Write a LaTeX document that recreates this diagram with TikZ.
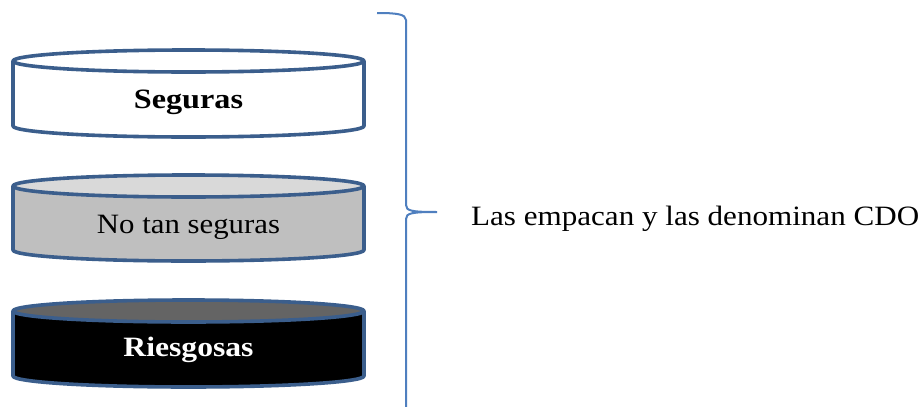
\documentclass[tikz,border=0pt]{standalone}
\usepackage{fontspec}
\setmainfont{Liberation Serif}
\definecolor{rim}{HTML}{3B5E8C}
\definecolor{bracec}{HTML}{4F7FBF}
\definecolor{midgray}{HTML}{BFBFBF}
\definecolor{midtop}{HTML}{D9D9D9}
\definecolor{darktop}{HTML}{646464}
\tikzset{
  rimline/.style={draw=rim, line width=3.6pt, line join=round},
  bracestyle/.style={draw=bracec, line width=2pt},
  lbl/.style={inner sep=0pt, anchor=base},
}
\newcommand\drawcyl[5]{%
  % #1 top center y, #2 bottom center y, #3 body fill, #4 top fill
  \path[rimline, fill=#3] (13,#1) -- (13,#2) arc[start angle=180, end angle=0, x radius=175.5, y radius=11] -- (364,#1) -- cycle;
  \path[rimline, fill=#4] (188.5,#1) ellipse[x radius=175.5, y radius=11];
}
\begin{document}
\begin{tikzpicture}[x=1pt, y=-1pt]
\useasboundingbox (0,0) rectangle (919,407);
\drawcyl{61}{126}{white}{white}{}
\drawcyl{186}{250}{midgray}{midtop}{}
\drawcyl{311}{376}{black}{darktop}{}
\node[lbl] (s1) at (188.5,108) {\fontsize{28}{32}\selectfont\bfseries\scalebox{1.15}[1]{Seguras}};
\node[lbl] (s2) at (188.5,233) {\fontsize{28}{32}\selectfont\scalebox{1.1}[1]{No tan seguras}};
\node[lbl] (s3) at (188.5,356) {\fontsize{28}{32}\selectfont\bfseries\color{white}\scalebox{1.13}[1]{Riesgosas}};
\coordinate (b0) at (377,13);
\coordinate (b1) at (406,20);
\coordinate (b2) at (406,205);
\coordinate (tip) at (437,212);
\coordinate (b3) at (406,219);
\coordinate (b4) at (406,410);
\path[bracestyle] (b0) .. controls (396,13) and (406,14) .. (b1) -- (b2) .. controls (406,211) and (412,212) .. (tip) .. controls (412,212) and (406,213) .. (b3) -- (b4);
\node[lbl, anchor=base west] (cdo) at (471,225) {\fontsize{28}{32}\selectfont\scalebox{1.11}[1]{Las empacan y las denominan CDO}};
\end{tikzpicture}
\end{document}
